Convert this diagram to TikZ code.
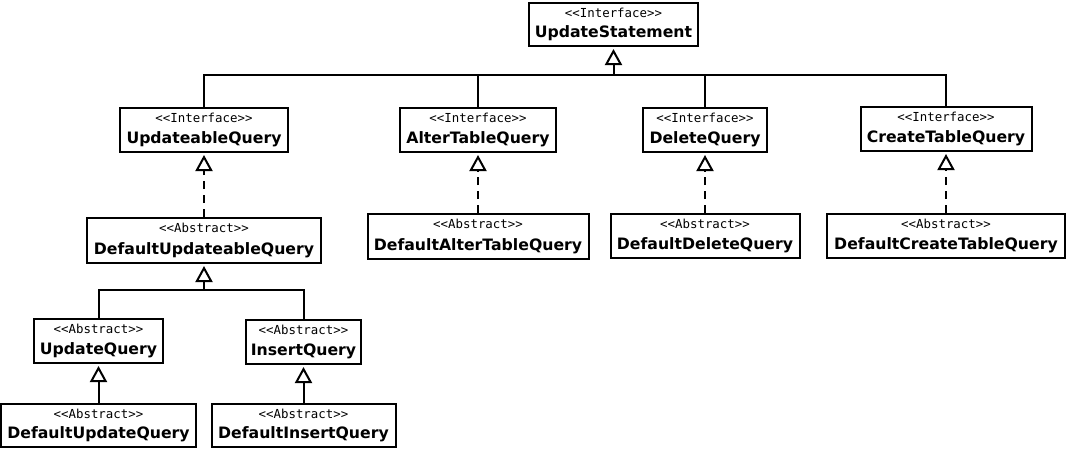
\documentclass[tikz,border=0pt]{standalone}
\usepackage{fontspec}
\usetikzlibrary{arrows.meta}
\newfontfamily\stereofont[Ligatures=TeXOff]{DejaVu Sans Mono}
\newfontfamily\titlefont{DejaVu Sans}
\newcommand\umlclass[7]{%
  \node[clsbox, minimum width=#4pt, minimum height=#5pt, anchor=north] (#1) at (#2,#3) {};
  \node[stereo] (#1-s) at ([yshift=-15pt]#1.north) {#6};
  \node[ttl] (#1-t) at ([yshift=10pt]#1.south) {#7};
}
\tikzset{
  clsbox/.style={draw, line width=2pt, inner sep=0pt, fill=white},
  stereo/.style={anchor=base, inner sep=0pt, font=\stereofont\fontsize{12.4}{14}\selectfont},
  ttl/.style={anchor=base, inner sep=0pt, font=\titlefont\bfseries\fontsize{15.7}{18}\selectfont},
  conn/.style={line width=2pt},
  gen/.style={conn, -{Triangle[open, width=17pt, length=16pt]}, shorten >=2pt},
  real/.style={gen, dash pattern=on 8pt off 6pt},
}
\begin{document}
\begin{tikzpicture}[x=1pt, y=-1pt]
\fill[white] (0,0) rectangle (1068,448);
\useasboundingbox (0,0) rectangle (1068,448);

\umlclass{us}{613.5}{2}{169}{43}{<<Interface>>}{UpdateStatement}
\umlclass{uq}{204}{107}{168}{44}{<<Interface>>}{UpdateableQuery}
\umlclass{at}{478}{107}{156}{44}{<<Interface>>}{AlterTableQuery}
\umlclass{dq}{705}{107}{124}{44}{<<Interface>>}{DeleteQuery}
\umlclass{ct}{946}{106}{171}{44}{<<Interface>>}{CreateTableQuery}
\umlclass{duq}{204}{217}{234}{45}{<<Abstract>>}{DefaultUpdateableQuery}
\umlclass{dat}{478}{213}{221}{45}{<<Abstract>>}{DefaultAlterTableQuery}
\umlclass{ddq}{705}{213}{189}{44}{<<Abstract>>}{DefaultDeleteQuery}
\umlclass{dct}{946}{213}{238}{44}{<<Abstract>>}{DefaultCreateTableQuery}
\umlclass{upq}{98.5}{318}{129}{44}{<<Abstract>>}{UpdateQuery}
\umlclass{iq}{303.5}{319}{115}{44}{<<Abstract>>}{InsertQuery}
\umlclass{dup}{98.5}{403}{195}{43}{<<Abstract>>}{DefaultUpdateQuery}
\umlclass{diq}{303.5}{403}{184}{43}{<<Abstract>>}{DefaultInsertQuery}

\coordinate (b1) at (613.5,75);
\draw[conn] (uq.north) |- (b1);
\draw[conn] (at.north) |- (b1);
\draw[conn] (dq.north) |- (b1);
\draw[conn] (ct.north) |- (b1);
\draw[gen] (b1) -- (us.south);

\draw[real] (duq.north) -- (uq.south);
\draw[real] (dat.north) -- (at.south);
\draw[real] (ddq.north) -- (dq.south);
\draw[real] (dct.north) -- (ct.south);

\coordinate (b2) at (204,290);
\draw[conn] (upq.north) |- (b2);
\draw[conn] (iq.north) |- (b2);
\draw[gen] (b2) -- (duq.south);

\draw[gen] (dup.north) -- (upq.south);
\draw[gen] (diq.north) -- (iq.south);
\end{tikzpicture}
\end{document}
